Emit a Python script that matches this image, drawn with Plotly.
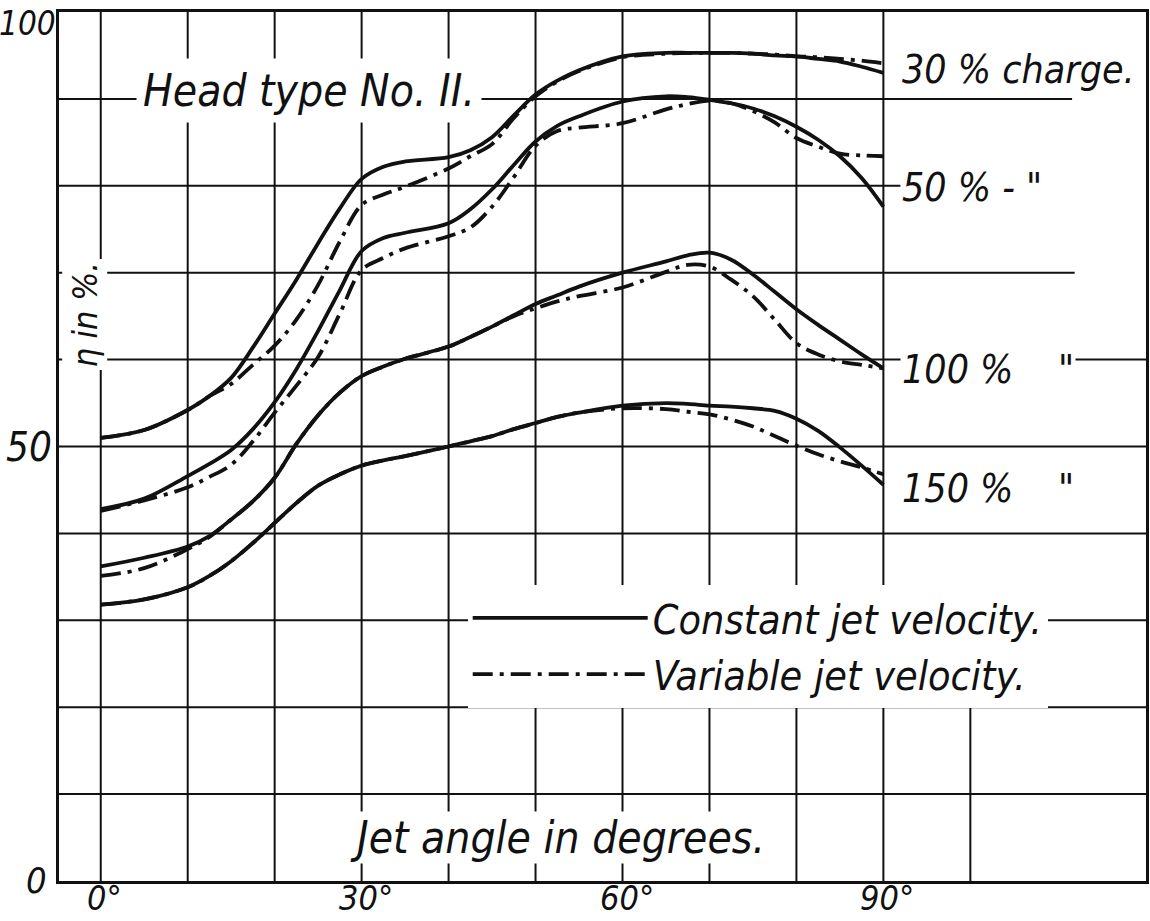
import plotly.graph_objects as go

# Jet angle in degrees (common abscissa for every curve)
ANGLE = [0, 5, 10, 12.5, 15, 17.5, 20, 22.5, 25, 27.5, 30, 32.5, 35, 40, 42.5, 45,
         47.5, 50, 52.5, 55, 60, 65, 67.5, 70, 72.5, 75, 77.5, 80, 82.5, 85, 87.5, 90]

# Efficiency eta in % - constant jet velocity
ETA_CONST_30 = [51.0, 51.9, 54.2, 55.8, 57.9, 61.4, 65.3, 69.2, 73.4, 77.4, 80.8, 82.2,
                82.8, 83.3, 84.1, 85.6, 88.1, 90.5, 92.1, 93.3, 94.9, 95.3, 95.3, 95.3,
                95.3, 95.2, 95.0, 94.9, 94.6, 94.3, 93.7, 93.0]
ETA_CONST_50 = [42.8, 44.0, 46.6, 48.0, 49.6, 52.0, 55.1, 58.9, 63.3, 68.0, 72.5, 74.0,
                74.6, 75.7, 77.3, 79.6, 82.4, 85.1, 86.9, 88.0, 89.7, 90.3, 90.2, 89.9,
                89.5, 88.9, 88.0, 86.8, 85.3, 83.4, 80.9, 77.6]
ETA_CONST_100 = [36.2, 37.2, 38.5, 39.7, 41.6, 43.7, 46.4, 50.3, 53.6, 56.2, 58.1, 59.2,
                 60.1, 61.5, 62.6, 63.8, 65.1, 66.4, 67.4, 68.4, 70.0, 71.3, 72.0, 72.3,
                 71.5, 69.8, 67.8, 65.8, 64.0, 62.3, 60.6, 59.0]
ETA_CONST_150 = [31.8, 32.4, 33.8, 35.1, 36.8, 38.9, 41.2, 43.5, 45.5, 46.8, 47.8, 48.4,
                 48.9, 50.0, 50.6, 51.2, 52.0, 52.7, 53.4, 53.9, 54.7, 55.0, 54.9, 54.7,
                 54.6, 54.4, 54.1, 53.2, 51.8, 49.9, 47.8, 45.6]

# Efficiency eta in % - variable jet velocity
ETA_VAR_30 = [51.0, 51.9, 54.2, 55.8, 57.2, 59.4, 61.6, 64.6, 68.6, 73.6, 77.8, 79.0,
              79.9, 82.0, 83.4, 84.8, 87.8, 90.3, 92.0, 93.2, 94.8, 95.2, 95.3, 95.3,
              95.3, 95.2, 95.1, 94.9, 94.8, 94.6, 94.4, 94.1]
ETA_VAR_50 = [42.6, 43.8, 45.3, 46.5, 47.9, 50.6, 53.9, 57.0, 60.3, 65.3, 70.3, 71.7,
              72.8, 74.2, 75.2, 77.6, 81.0, 84.6, 86.3, 86.7, 87.2, 88.8, 89.4, 89.8,
              89.5, 88.6, 87.3, 85.5, 84.5, 83.7, 83.5, 83.4]
ETA_VAR_100 = [35.1, 36.0, 38.2, 39.6, 41.6, 43.7, 46.4, 50.3, 53.6, 56.2, 58.1, 59.2,
               60.1, 61.5, 62.6, 63.8, 65.0, 65.9, 66.7, 67.3, 68.3, 70.1, 70.9, 70.7,
               69.2, 67.3, 64.6, 61.9, 60.6, 59.8, 59.4, 59.0]
ETA_VAR_150 = [31.8, 32.4, 33.8, 35.1, 36.8, 38.9, 41.2, 43.5, 45.5, 46.8, 47.8, 48.4,
               48.9, 50.0, 50.6, 51.2, 52.0, 52.7, 53.4, 53.9, 54.4, 54.3, 54.0, 53.7,
               53.1, 52.3, 51.2, 50.1, 49.1, 48.3, 47.6, 46.8]

X_TICKS = [0, 30, 60, 90]
X_TICK_TEXT = ["0°", "30°", "60°", "90°"]
Y_TICKS = [0, 50, 100]
Y_TICK_TEXT = ["0", "50", "100"]

CHARGE_LABELS = ["30 % charge.", '50 % - "', '100 %    "', '150 %    "']

FONT = "Liberation Sans Narrow, DejaVu Sans Condensed, Liberation Sans, sans-serif"
INK = "#111111"
X_MIN, X_MAX = -4.8, 120.2
DASHDOT = "20px,7px,4px,7px"

fig = go.Figure()

const_series = [ETA_CONST_30, ETA_CONST_50, ETA_CONST_100, ETA_CONST_150]
var_series = [ETA_VAR_30, ETA_VAR_50, ETA_VAR_100, ETA_VAR_150]

for i, ys in enumerate(var_series):
    fig.add_trace(go.Scatter(
        x=ANGLE, y=ys, mode="lines",
        line=dict(color=INK, width=3.8, dash=DASHDOT, shape="spline", smoothing=1.0),
        name="Variable jet velocity.", showlegend=(i == 0), legendrank=2,
        hoverinfo="skip"))

for i, ys in enumerate(const_series):
    fig.add_trace(go.Scatter(
        x=ANGLE, y=ys, mode="lines",
        line=dict(color=INK, width=3.8, shape="spline", smoothing=1.0),
        name="Constant jet velocity.", showlegend=(i == 0), legendrank=1,
        hoverinfo="skip"))

# Hand-ruled grid: horizontal rules end at different places on the right
h_rule_end = {10: X_MAX, 20: X_MAX, 30: X_MAX, 40: X_MAX, 50: X_MAX, 60: X_MAX,
              70: 112.0, 80: 92.0, 90: 111.7}
shapes = []
for level, x_end in h_rule_end.items():
    shapes.append(dict(type="line", xref="x", yref="y", x0=X_MIN, x1=x_end,
                       y0=level, y1=level, layer="below",
                       line=dict(color=INK, width=2)))
for deg in range(0, 100, 10):
    shapes.append(dict(type="line", xref="x", yref="y", x0=deg, x1=deg,
                       y0=0, y1=100, layer="below",
                       line=dict(color=INK, width=2)))
shapes.append(dict(type="line", xref="x", yref="y", x0=100, x1=100, y0=0, y1=20,
                   layer="below", line=dict(color=INK, width=2)))

annotations = []


def note(text, x, y, size, xanchor="center", bg=None, angle=0, pad=2):
    annotations.append(dict(
        text=text, x=x, y=y, xref="x", yref="y", showarrow=False,
        xanchor=xanchor, yanchor="middle", textangle=angle,
        font=dict(family=FONT, size=size, color=INK, style="italic"),
        bgcolor=bg, borderpad=pad))


note("Head type No. II.", 23.9, 91.0, 44, bg="white", pad=6)
label_y = [93.4, 79.8, 58.9, 45.2]
for text, y in zip(CHARGE_LABELS, label_y):
    note(text, 91.9, y, 39, xanchor="left", bg="white", pad=1)
note("Jet angle in degrees.", 52.5, 5.0, 44, bg="white", pad=0)
note("η in %.", -1.8, 65.2, 34, bg="white", angle=-90, pad=2)

# y-axis numbers, set just outside the left frame
y_label_shift = {0: (-10, 1, 36), 50: (-5, 0, 40), 100: (-1, -11, 33)}
for val, txt in zip(Y_TICKS, Y_TICK_TEXT):
    dx, dy, size = y_label_shift[val]
    annotations.append(dict(
        text=txt, x=0, y=val, xref="paper", yref="y", showarrow=False,
        xanchor="right", yanchor="middle", xshift=dx, yshift=dy,
        font=dict(family=FONT, size=size, color=INK, style="italic")))

# x-axis numbers, just below the bottom frame
for val, txt in zip(X_TICKS, X_TICK_TEXT):
    annotations.append(dict(
        text=txt, x=val, y=0, xref="x", yref="paper", showarrow=False,
        xanchor="center", yanchor="bottom", xshift=4, yshift=-39,
        font=dict(family=FONT, size=34, color=INK, style="italic")))

fig.update_layout(
    width=1150, height=921,
    margin=dict(l=59, r=4, t=12, b=40),
    paper_bgcolor="white", plot_bgcolor="white",
    shapes=shapes, annotations=annotations,
    font=dict(family=FONT, color=INK, style="italic"),
    showlegend=True,
    legend=dict(x=0.376, y=0.341, xanchor="left", yanchor="top",
                bgcolor="white", borderwidth=0, itemwidth=175,
                font=dict(family=FONT, size=41, color=INK, style="italic"),
                tracegroupgap=0),
    xaxis=dict(range=[X_MIN, X_MAX], showgrid=False, zeroline=False,
               showline=True, mirror=True, linecolor=INK, linewidth=3,
               showticklabels=False, ticks="", automargin=False),
    yaxis=dict(range=[0, 100], showgrid=False, zeroline=False,
               showline=True, mirror=True, linecolor=INK, linewidth=3,
               showticklabels=False, ticks="", automargin=False),
)

fig.write_html("out.html")
